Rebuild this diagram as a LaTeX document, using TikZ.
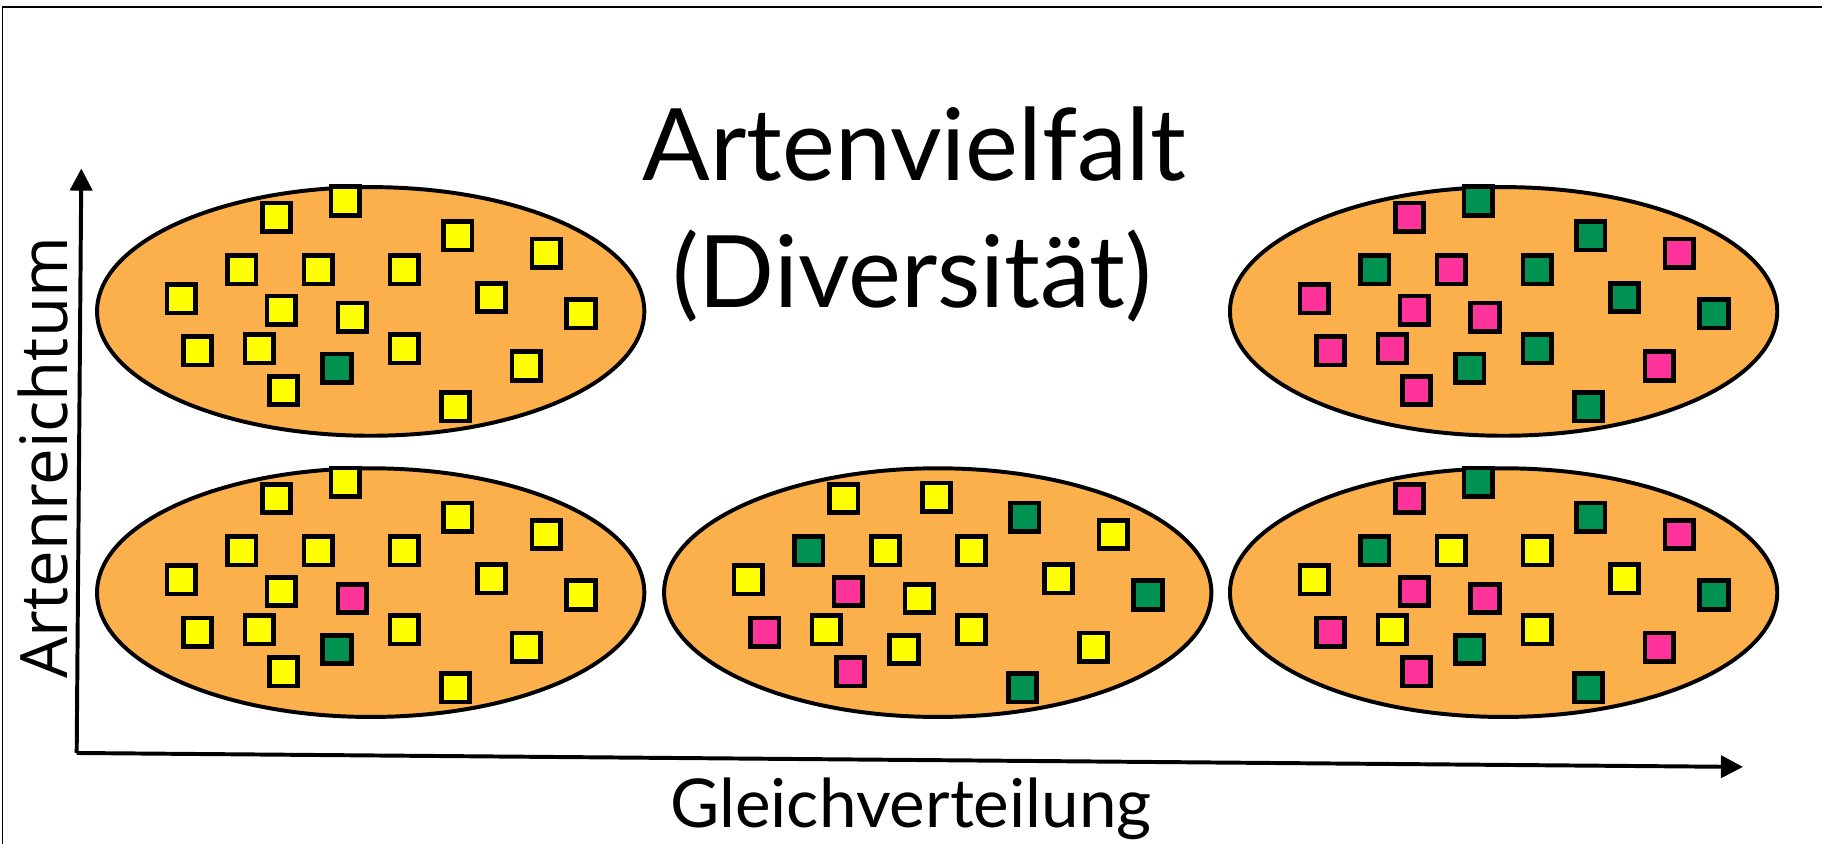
\documentclass[tikz,border=0pt]{standalone}
\usepackage{fontspec}
\usetikzlibrary{shapes.geometric,arrows.meta}
\newfontfamily\titlefont{Lato}
\newfontfamily\ylabfont{Open Sans}
\definecolor{blobfill}{RGB}{251,176,75}
\definecolor{sqY}{RGB}{255,255,0}
\definecolor{sqG}{RGB}{0,146,80}
\definecolor{sqP}{RGB}{255,51,153}
\def\offXa{{-81,-22,75,151,-111,-45,29,-163,-77,-16,104,181,-149,-96,-29,29,134,-75,73}}
\def\offYa{{-81,-95,-65,-50,-36,-36,-36,-11,-1,5,-12,2,34,32,49,32,47,68,82}}
\def\offXb{{-81,-1,75,151,-111,-45,29,-163,-77,-16,104,181,-149,-96,-29,29,134,-75,73}}
\def\offYb{{-81,-82,-65,-50,-36,-36,-36,-11,-1,5,-12,2,34,32,49,32,47,68,82}}
\newcommand\fillblob[4]{%
  \foreach \c [count=\i] in {#4} {%
    \pgfmathsetmacro\dx{#2[\i-1]}%
    \pgfmathsetmacro\dy{#3[\i-1]}%
    \node[sq, fill=\c] (#1-\i) at ([shift={(\dx,\dy)}]#1.center) {};
  }}
\begin{document}
\begin{tikzpicture}[x=0.1mm, y=-0.1mm,
  blob/.style={ellipse, draw=black, fill=blobfill, line width=0.34mm,
    minimum width=47.1mm, minimum height=21.4mm, inner sep=0pt},
  sq/.style={rectangle, draw=black, line width=0.4mm, minimum size=2.45mm, inner sep=0pt},
  axis/.style={line width=0.34mm, -{Triangle[length=1.9mm, width=1.9mm]}},
  frame/.style={line width=0.12mm}]
\useasboundingbox (0,0) rectangle (1568,726);
\fill[white] (0,0) rectangle (1568,726);
% frame
\coordinate (fbl) at (2,726);
\coordinate (ftl) at (2,6);
\coordinate (ftr) at (1568,6);
\draw[frame] (fbl) -- (ftl) -- (ftr);
% axes
\coordinate (origin) at (66,648);
\coordinate (ytip) at (70,145);
\coordinate (xtip) at (1500,660);
\draw[axis] (origin) -- (ytip);
\draw[axis] (origin) -- (xtip);
% ellipses
\node[blob] (e1) at (319,268) {};
\node[blob] (e2) at (319,510) {};
\node[blob] (e3) at (807,510) {};
\node[blob] (e4) at (1294,268) {};
\node[blob] (e5) at (1294,510) {};
\fillblob{e1}{\offXa}{\offYa}{sqY,sqY,sqY,sqY,sqY,sqY,sqY,sqY,sqY,sqY,sqY,sqY,sqY,sqY,sqG,sqY,sqY,sqY,sqY}
\fillblob{e2}{\offXa}{\offYa}{sqY,sqY,sqY,sqY,sqY,sqY,sqY,sqY,sqY,sqP,sqY,sqY,sqY,sqY,sqG,sqY,sqY,sqY,sqY}
\fillblob{e3}{\offXb}{\offYb}{sqY,sqY,sqG,sqY,sqG,sqY,sqY,sqY,sqP,sqY,sqY,sqG,sqP,sqY,sqY,sqY,sqY,sqP,sqG}
\fillblob{e4}{\offXa}{\offYa}{sqP,sqG,sqG,sqP,sqG,sqP,sqG,sqP,sqP,sqP,sqG,sqG,sqP,sqP,sqG,sqG,sqP,sqP,sqG}
\fillblob{e5}{\offXa}{\offYa}{sqP,sqG,sqG,sqP,sqG,sqY,sqY,sqY,sqP,sqP,sqY,sqG,sqP,sqY,sqG,sqY,sqP,sqP,sqG}
% texts
\node[font=\titlefont\fontsize{24.5}{24.5}\selectfont, anchor=base, inner sep=0pt] (t1) at (787,155) {Artenvielfalt};
\node[font=\titlefont\fontsize{24.5}{24.5}\selectfont, anchor=base, inner sep=0pt] (t2) at (785,265) {(Diversität)};
\node[font=\titlefont\fontsize{16.5}{16.5}\selectfont, anchor=base, inner sep=0pt] (xl) at (784,712) {Gleichverteilung};
\node[font=\ylabfont\fontsize{16}{16}\selectfont, rotate=90, anchor=base, inner sep=0pt] (yl) at (58,394) {Artenreichtum};
\end{tikzpicture}
\end{document}
